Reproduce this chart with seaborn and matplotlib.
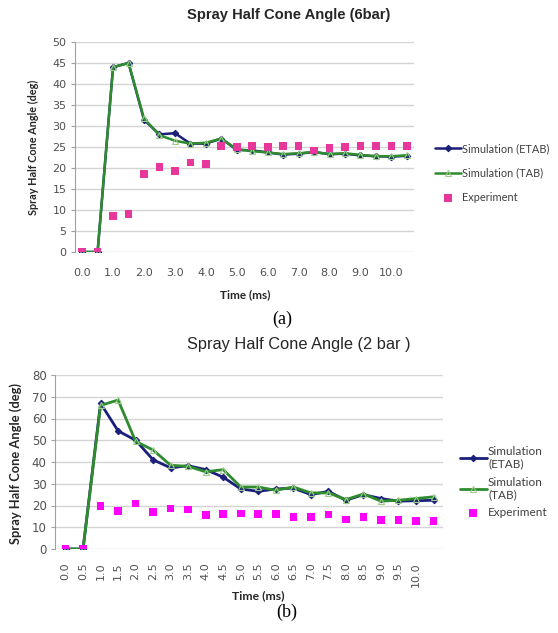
import numpy as np
import pandas as pd
import matplotlib
matplotlib.use("Agg")
import matplotlib.pyplot as plt
import seaborn as sns

sns.set_style("white")
plt.rcParams['font.family'] = ['Lato', 'DejaVu Sans']

# ---------------- data ----------------
time = [0.0, 0.5, 1.0, 1.5, 2.0, 2.5, 3.0, 3.5, 4.0, 4.5, 5.0, 5.5,
        6.0, 6.5, 7.0, 7.5, 8.0, 8.5, 9.0, 9.5, 10.0, 10.5]

# (a) 6 bar
etab_6bar = [0, 0, 44.0, 45.0, 31.5, 28.0, 28.3, 25.8, 25.8, 27.0, 24.3, 24.2,
             23.7, 23.2, 23.4, 23.8, 23.3, 23.4, 23.0, 22.8, 22.7, 22.9]
tab_6bar = [0, 0, 44.0, 45.0, 31.8, 27.8, 26.5, 25.8, 26.0, 27.0, 24.5, 24.0,
            23.7, 23.3, 23.5, 23.8, 23.3, 23.5, 23.1, 22.8, 22.8, 23.0]
exp_6bar = [0, 0, 8.5, 9.0, 18.5, 20.3, 19.3, 21.3, 21.0, 25.2, 25.0, 25.3,
            25.0, 25.3, 25.3, 24.2, 24.8, 25.0, 25.2, 25.2, 25.2, 25.2]

# (b) 2 bar
etab_2bar = [0, 0, 67.0, 54.3, 50.0, 41.0, 37.3, 38.3, 36.5, 33.0, 27.6, 26.5,
             27.6, 28.0, 25.0, 26.5, 22.4, 25.0, 23.2, 22.0, 22.2, 22.4]
tab_2bar = [0, 0, 66.0, 68.5, 49.5, 45.5, 38.5, 38.0, 35.5, 36.5, 28.5, 28.5,
            27.0, 28.5, 25.8, 25.8, 22.7, 25.3, 22.0, 22.4, 23.2, 24.0]
exp_2bar = [0, 0, 19.7, 17.4, 21.0, 17.0, 18.6, 18.2, 15.5, 16.2, 16.4, 16.2,
            16.2, 14.8, 14.8, 15.9, 13.6, 14.7, 13.3, 13.3, 12.8, 12.8]

ticks_a = [0.0, 1.0, 2.0, 3.0, 4.0, 5.0, 6.0, 7.0, 8.0, 9.0, 10.0]
ticks_b = [0.0, 0.5, 1.0, 1.5, 2.0, 2.5, 3.0, 3.5, 4.0, 4.5, 5.0, 5.5,
           6.0, 6.5, 7.0, 7.5, 8.0, 8.5, 9.0, 9.5, 10.0]

C_ETAB = "#1b1f7a"
C_TAB = "#2e8b2e"
C_TAB_MK = "#9ccc8c"
C_EXP_A = "#e8379b"
C_EXP_B = "#ff00ff"
GRID = "#d4d4d4"
TICK_FONT = ["DejaVu Sans"]

W, H = 558, 633
fig = plt.figure(figsize=(W / 100, H / 100), dpi=100)


def fx(px):
    return px / W


def fy(py):
    return 1 - py / H


def draw(ax, etab, tab, exp, exp_color, lw, labels):
    df = pd.DataFrame({"t": time, "etab": etab, "tab": tab, "exp": exp})
    sns.lineplot(data=df, x="t", y="etab", ax=ax, color=C_ETAB, lw=lw,
                 marker="D", markersize=3.3, markeredgecolor=C_ETAB,
                 label=labels[0], zorder=3)
    sns.lineplot(data=df, x="t", y="tab", ax=ax, color=C_TAB, lw=lw,
                 marker="^", markersize=5, markerfacecolor="none",
                 markeredgecolor=C_TAB_MK, markeredgewidth=0.8,
                 label=labels[1], zorder=4)
    sns.scatterplot(data=df, x="t", y="exp", ax=ax, color=exp_color,
                    marker="s", s=30, edgecolor="none", label=labels[2],
                    zorder=5)
    ax.set_facecolor("white")
    for s in ["top", "right", "bottom"]:
        ax.spines[s].set_visible(False)
    ax.spines["left"].set_color("#a0a0a0")
    ax.spines["left"].set_linewidth(0.8)
    ax.yaxis.grid(True, color=GRID, lw=1.0)
    ax.xaxis.grid(False)
    ax.tick_params(axis="y", left=True, length=3, color="#a0a0a0",
                   colors="#505050", pad=3)
    ax.tick_params(axis="x", bottom=False, colors="#505050")
    ax.set_xlabel("")
    ax.set_ylabel("")


# ---------------- (a) ----------------
ax1 = fig.add_axes([fx(75), fy(252), fx(414 - 75), (252 - 42) / H])
draw(ax1, etab_6bar, tab_6bar, exp_6bar, C_EXP_A, 1.8,
     ["Simulation (ETAB)", "Simulation (TAB)", "Experiment"])
ax1.set_xlim(-0.23, 10.73)
ax1.set_ylim(0, 50)
ax1.set_yticks(np.arange(0, 51, 5))
ax1.set_xticks(ticks_a)
ax1.set_xticklabels([f"{v:.1f}" for v in ticks_a], fontsize=8,
                    family=TICK_FONT)
for lab in ax1.get_yticklabels():
    lab.set_fontsize(8)
    lab.set_family(TICK_FONT)
ax1.tick_params(axis="x", pad=8)
ax1.legend(loc="center left", bbox_to_anchor=(fx(431), fy(173)),
           bbox_transform=fig.transFigure, frameon=False, fontsize=7.9,
           handlelength=2.3, handletextpad=0.1, labelspacing=1.2,
           borderaxespad=0, labelcolor="#404040")
fig.text(fx(289), fy(15), "Spray Half Cone Angle (6bar)", ha="center",
         va="center", fontsize=10.6, fontweight="bold",
         family=["Liberation Sans"], color="#262626")
fig.text(fx(33), fy(147), "Spray Half Cone Angle (deg)", rotation=90,
         ha="center", va="center", fontsize=7.8, fontweight="bold",
         color="#262626")
fig.text(fx(245), fy(295), "Time (ms)", ha="center", va="center",
         fontsize=8.5, fontweight="bold", color="#262626")
fig.text(fx(282), fy(319), "(a)", ha="center", va="center", fontsize=13,
         family=["Liberation Serif"], color="black")

# ---------------- (b) ----------------
ax2 = fig.add_axes([fx(55), fy(549), fx(443 - 55), (549 - 375) / H])
draw(ax2, etab_2bar, tab_2bar, exp_2bar, C_EXP_B, 2.0,
     ["Simulation\n(ETAB)", "Simulation\n(TAB)", "Experiment"])
ax2.set_xlim(-0.3, 10.77)
ax2.set_ylim(0, 80)
ax2.set_yticks(np.arange(0, 81, 10))
ax2.set_xticks(ticks_b)
ax2.set_xticklabels([f"{v:.1f}" for v in ticks_b], fontsize=8, rotation=90,
                    family=TICK_FONT)
for lab in ax2.get_yticklabels():
    lab.set_fontsize(8.5)
    lab.set_family(TICK_FONT)
ax2.tick_params(axis="x", pad=6)
ax2.legend(loc="center left", bbox_to_anchor=(fx(455), fy(482)),
           bbox_transform=fig.transFigure, frameon=False, fontsize=8.5,
           handlelength=2.3, handletextpad=0.1, labelspacing=0.6,
           borderaxespad=0, labelcolor="#404040")
fig.text(fx(299), fy(345), "Spray Half Cone Angle (2 bar )", ha="center",
         va="center", fontsize=11.8, family=["Liberation Sans"],
         color="#262626")
fig.text(fx(16), fy(463), "Spray Half Cone Angle (deg)", rotation=90,
         ha="center", va="center", fontsize=9.3, fontweight="bold",
         color="#262626")
fig.text(fx(258), fy(596), "Time (ms)", ha="center", va="center",
         fontsize=8.8, fontweight="bold", color="#262626")
fig.text(fx(287), fy(612), "(b)", ha="center", va="center", fontsize=13,
         family=["Liberation Serif"], color="black")

fig.savefig("out.png", dpi=100, facecolor="white")
